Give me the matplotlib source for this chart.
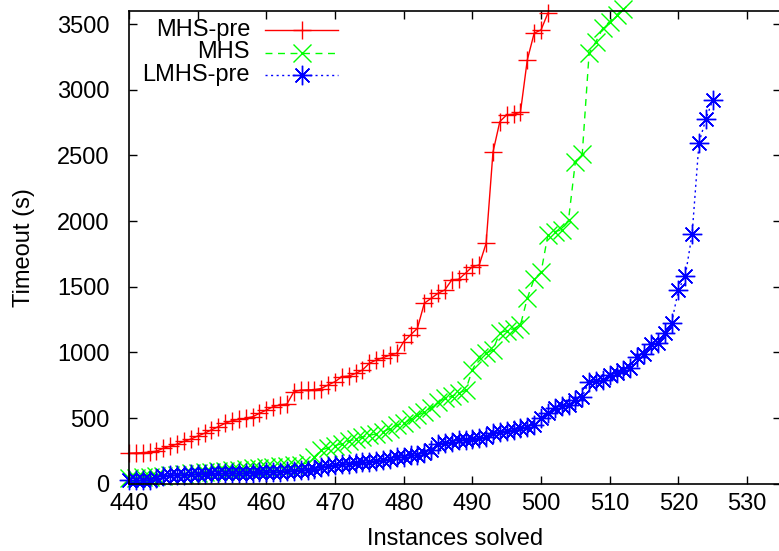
import matplotlib
matplotlib.use('Agg')
import matplotlib.pyplot as plt
from matplotlib.lines import Line2D
import numpy as np

plt.rcParams['font.family'] = ['Liberation Sans Narrow', 'Liberation Sans', 'DejaVu Sans']

# instances solved (x) vs timeout in seconds (y)
mhs_pre_x = list(range(440, 502))
mhs_pre_y = [232, 234, 236, 240, 248, 270, 285, 302, 322, 340,
             363, 384, 410, 434, 460, 480, 490, 498, 510, 536,
             561, 587, 600, 607, 700, 712, 714, 716, 725, 752,
             777, 815, 820, 840, 866, 917, 942, 960, 980, 993,
             1082, 1133, 1184, 1374, 1412, 1450, 1476, 1552, 1557, 1603,
             1653, 1666, 1830, 2525, 2758, 2809, 2814, 2829, 3228, 3431,
             3456, 3584]

mhs_x = list(range(440, 513))
mhs_y = [40, 44, 48, 52, 56, 60, 64, 68, 72, 78,
         84, 88, 92, 96, 100, 104, 108, 112, 116, 120,
         124, 128, 132, 136, 140, 144, 160, 205, 255, 275,
         290, 305, 325, 340, 355, 368, 380, 396, 420, 445,
         460, 490, 520, 545, 580, 620, 650, 665, 690, 710,
         866, 968, 993, 1019, 1150, 1165, 1180, 1209, 1412, 1560,
         1610, 1895, 1920, 1933, 2009, 2453, 2510, 3279, 3367, 3469,
         3520, 3571, 3615]

lmhs_pre_x = list(range(440, 526))
lmhs_pre_y = [25, 27, 28, 30, 45, 60, 65, 68, 70, 72,
              74, 76, 78, 79, 80, 82, 83, 84, 85, 86,
              88, 90, 92, 95, 98, 102, 108, 115, 125, 135,
              142, 148, 152, 158, 162, 166, 172, 181, 185, 200,
              206, 215, 222, 235, 260, 305, 310, 320, 330, 335,
              338, 346, 358, 384, 396, 400, 409, 422, 434, 447,
              498, 536, 574, 592, 600, 638, 663, 777, 780, 790,
              828, 845, 866, 879, 968, 990, 1064, 1070, 1146, 1222,
              1476, 1582, 1902, 2598, 2776, 2923]

labels = ['MHS-pre', 'MHS', 'LMHS-pre']
colors = ['#ff0000', '#00ff00', '#0000ff']
styles = ['-', (0, (5, 4)), (0, (1.5, 2.5))]
markers = ['+', 'x', (8, 2, 0)]
sizes = [13, 13, 14]

fig = plt.figure(figsize=(7.79, 5.51), dpi=100)
ax = fig.add_axes([129/779, 1 - 483.7/551, 652.4/779, 472.7/551])

series = [(mhs_pre_x, mhs_pre_y), (mhs_x, mhs_y), (lmhs_pre_x, lmhs_pre_y)]
for (xs, ys), c, ls, m, ms in zip(series, colors, styles, markers, sizes):
    ax.plot(xs, ys, color=c, lw=1.0, ls=ls, marker=m, ms=ms, mew=1.0, clip_on=False)

ax.set_xlim(440, 535)
ax.set_ylim(0, 3600)
ax.set_xticks(np.arange(440, 531, 10))
ax.set_yticks(np.arange(0, 3501, 500))
ax.tick_params(direction='in', length=6, width=1, top=True, right=True, labelsize=17)
ax.tick_params(axis='y', pad=14)
ax.tick_params(axis='x', pad=7)
for s in ax.spines.values():
    s.set_linewidth(1.2)
ax.set_xlabel('Instances solved', fontsize=17, labelpad=9)
ax.set_ylabel('Timeout (s)', fontsize=17, labelpad=16)

# gnuplot-style key: right-justified text, sample on the right
for i, (lab, c, ls, m, ms) in enumerate(zip(labels, colors, styles, markers, sizes)):
    yf = 1 - (30 + 22.5 * i) / 551
    fig.text(250/779, yf, lab, ha='right', va='center', fontsize=17)
    fig.add_artist(Line2D([265/779, 338/779], [yf, yf], transform=fig.transFigure,
                          color=c, lw=1.0, ls=ls))
    fig.add_artist(Line2D([301.5/779], [yf], transform=fig.transFigure,
                          color=c, ls='none', marker=m, ms=ms, mew=1.0))

fig.savefig('out.png', dpi=100)
